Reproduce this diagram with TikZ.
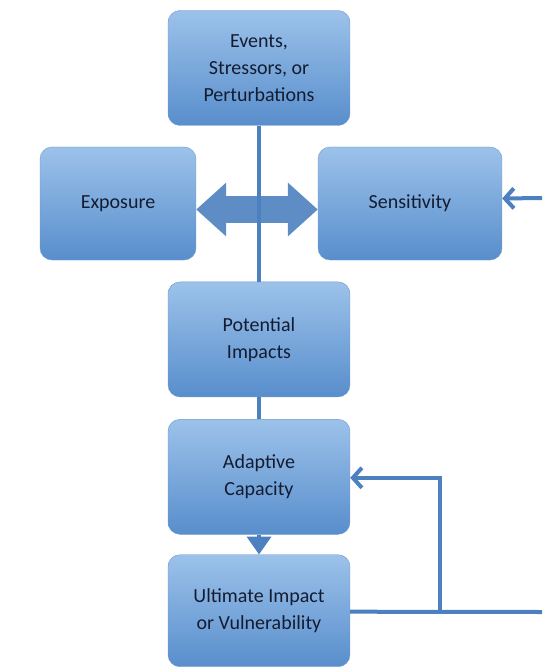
\documentclass[tikz,border=0pt]{standalone}
\usepackage{fontspec}
\setmainfont{Carlito}
\usepackage{xcolor}
\usetikzlibrary{arrows.meta,positioning}
\definecolor{boxtop}{RGB}{156,194,234}
\definecolor{boxbot}{RGB}{88,142,204}
\definecolor{linkblue}{RGB}{76,128,190}
\definecolor{ink}{RGB}{20,28,50}

\begin{document}
\begin{tikzpicture}[x=1pt, y=1pt, font=\fontsize{20}{27}\selectfont, node distance=20pt and 20pt,
  block/.style={draw=linkblue!80, thin, top color=boxtop, bottom color=boxbot, rounded corners=12pt,
    minimum width=182pt, minimum height=115pt, align=center, text=ink},
  link/.style={draw=linkblue, line width=4pt}]
  \useasboundingbox (0,0) rectangle (542,-668);
  \node[block] (ev) at (259,-68) {Events,\\ Stressors, or\\ Perturbations};
  \node[block, minimum width=156pt, minimum height=113pt] (exp) at (118,-203.5) {Exposure};
  \node[block, minimum width=184pt, minimum height=113pt] (sen) at (410,-203.5) {Sensitivity};
  \node[block, below=156pt of ev] (pot) {Potential\\ Impacts};
  \node[block, below=22pt of pot] (ada) {Adaptive\\ Capacity};
  \node[block, below=20pt of ada, minimum height=112pt] (ult) {Ultimate Impact\\ or Vulnerability};
  \coordinate (senin) at (542,-198);
  \coordinate (ultout) at (542,-612);
  \coordinate (fbk) at (440,-612);
  \draw[linkblue!90, line width=26pt, {Triangle[length=30pt,width=52pt]}-{Triangle[length=30pt,width=52pt]}]
    ([yshift=-6pt]exp.east) -- ([yshift=-6pt]sen.west);
  \draw[link] (ev) -- (pot);
  \draw[link] (pot) -- (ada);
  \draw[link, -{Triangle[length=18pt,width=24pt]}] (ada) -- (ult);
  \draw[link, -{Straight Barb[length=9pt,width=20pt]}] (senin) -- ([yshift=5pt]sen.east);
  \draw[link] ([yshift=-1pt]ult.east) -- (ultout);
  \draw[link, -{Straight Barb[length=9pt,width=20pt]}] (fbk) |- ([yshift=-1pt]ada.east);
\end{tikzpicture}
\end{document}
